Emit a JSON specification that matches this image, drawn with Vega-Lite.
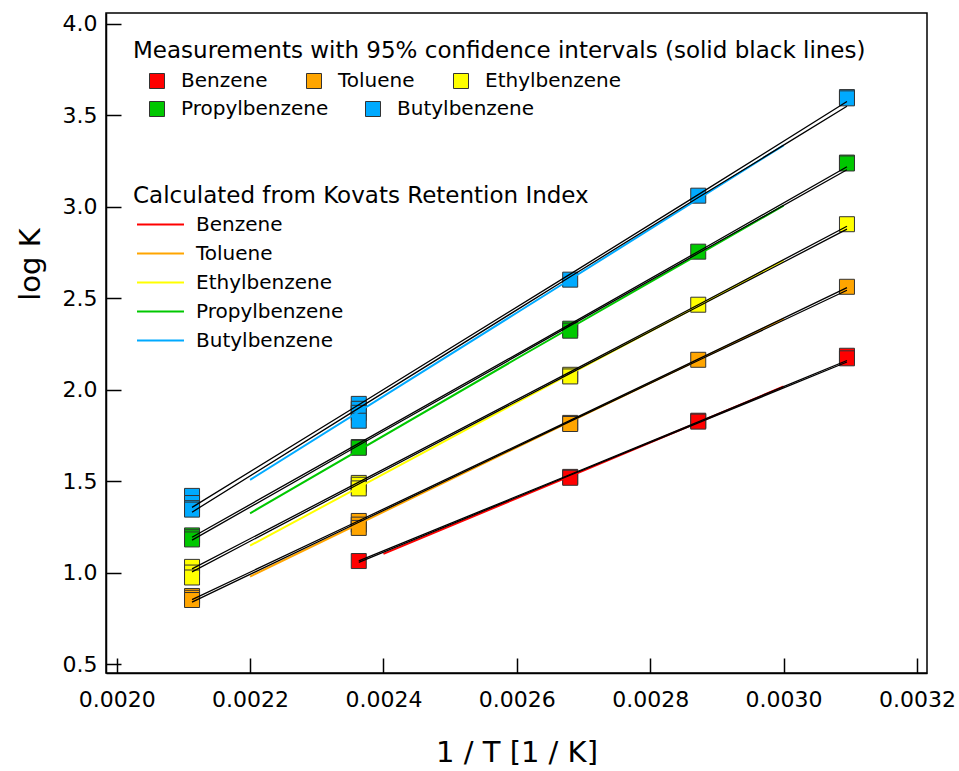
{
  "$schema": "https://vega.github.io/schema/vega-lite/v6.json",
  "width": 821,
  "height": 660,
  "autosize": {"type": "none"},
  "padding": {"left": 106, "top": 13, "right": 32, "bottom": 98},
  "background": "white",
  "datasets": {
    "meas": [
      {"compound": "Benzene", "invT": 0.002363, "logK": 1.063},
      {"compound": "Benzene", "invT": 0.002680, "logK": 1.523},
      {"compound": "Benzene", "invT": 0.002680, "logK": 1.518},
      {"compound": "Benzene", "invT": 0.002872, "logK": 1.830},
      {"compound": "Benzene", "invT": 0.002872, "logK": 1.825},
      {"compound": "Benzene", "invT": 0.003095, "logK": 2.185},
      {"compound": "Benzene", "invT": 0.003095, "logK": 2.171},
      {"compound": "Toluene", "invT": 0.002113, "logK": 0.872},
      {"compound": "Toluene", "invT": 0.002113, "logK": 0.862},
      {"compound": "Toluene", "invT": 0.002113, "logK": 0.850},
      {"compound": "Toluene", "invT": 0.002363, "logK": 1.282},
      {"compound": "Toluene", "invT": 0.002363, "logK": 1.262},
      {"compound": "Toluene", "invT": 0.002363, "logK": 1.244},
      {"compound": "Toluene", "invT": 0.002680, "logK": 1.818},
      {"compound": "Toluene", "invT": 0.002680, "logK": 1.812},
      {"compound": "Toluene", "invT": 0.002872, "logK": 2.163},
      {"compound": "Toluene", "invT": 0.003095, "logK": 2.562},
      {"compound": "Ethylbenzene", "invT": 0.002113, "logK": 1.031},
      {"compound": "Ethylbenzene", "invT": 0.002113, "logK": 1.000},
      {"compound": "Ethylbenzene", "invT": 0.002113, "logK": 0.973},
      {"compound": "Ethylbenzene", "invT": 0.002363, "logK": 1.490},
      {"compound": "Ethylbenzene", "invT": 0.002363, "logK": 1.480},
      {"compound": "Ethylbenzene", "invT": 0.002363, "logK": 1.460},
      {"compound": "Ethylbenzene", "invT": 0.002680, "logK": 2.081},
      {"compound": "Ethylbenzene", "invT": 0.002680, "logK": 2.072},
      {"compound": "Ethylbenzene", "invT": 0.002872, "logK": 2.464},
      {"compound": "Ethylbenzene", "invT": 0.003095, "logK": 2.904},
      {"compound": "Propylbenzene", "invT": 0.002113, "logK": 1.203},
      {"compound": "Propylbenzene", "invT": 0.002113, "logK": 1.193},
      {"compound": "Propylbenzene", "invT": 0.002113, "logK": 1.181},
      {"compound": "Propylbenzene", "invT": 0.002363, "logK": 1.686},
      {"compound": "Propylbenzene", "invT": 0.002363, "logK": 1.682},
      {"compound": "Propylbenzene", "invT": 0.002680, "logK": 2.333},
      {"compound": "Propylbenzene", "invT": 0.002680, "logK": 2.322},
      {"compound": "Propylbenzene", "invT": 0.002872, "logK": 2.754},
      {"compound": "Propylbenzene", "invT": 0.003095, "logK": 3.241},
      {"compound": "Propylbenzene", "invT": 0.003095, "logK": 3.236},
      {"compound": "Butylbenzene", "invT": 0.002113, "logK": 1.419},
      {"compound": "Butylbenzene", "invT": 0.002113, "logK": 1.380},
      {"compound": "Butylbenzene", "invT": 0.002113, "logK": 1.352},
      {"compound": "Butylbenzene", "invT": 0.002113, "logK": 1.344},
      {"compound": "Butylbenzene", "invT": 0.002363, "logK": 1.922},
      {"compound": "Butylbenzene", "invT": 0.002363, "logK": 1.895},
      {"compound": "Butylbenzene", "invT": 0.002363, "logK": 1.873},
      {"compound": "Butylbenzene", "invT": 0.002363, "logK": 1.830},
      {"compound": "Butylbenzene", "invT": 0.002680, "logK": 2.601},
      {"compound": "Butylbenzene", "invT": 0.002872, "logK": 3.060},
      {"compound": "Butylbenzene", "invT": 0.003095, "logK": 3.599},
      {"compound": "Butylbenzene", "invT": 0.003095, "logK": 3.592}
    ],
    "ci": [
      {"compound": "Benzene", "bound": "upper", "invT": 0.002363, "logK": 1.064},
      {"compound": "Benzene", "bound": "upper", "invT": 0.002680, "logK": 1.536},
      {"compound": "Benzene", "bound": "upper", "invT": 0.002872, "logK": 1.824},
      {"compound": "Benzene", "bound": "upper", "invT": 0.003095, "logK": 2.159},
      {"compound": "Benzene", "bound": "lower", "invT": 0.002363, "logK": 1.056},
      {"compound": "Benzene", "bound": "lower", "invT": 0.002680, "logK": 1.532},
      {"compound": "Benzene", "bound": "lower", "invT": 0.002872, "logK": 1.818},
      {"compound": "Benzene", "bound": "lower", "invT": 0.003095, "logK": 2.151},
      {"compound": "Toluene", "bound": "upper", "invT": 0.002113, "logK": 0.852},
      {"compound": "Toluene", "bound": "upper", "invT": 0.002363, "logK": 1.283},
      {"compound": "Toluene", "bound": "upper", "invT": 0.002680, "logK": 1.832},
      {"compound": "Toluene", "bound": "upper", "invT": 0.002872, "logK": 2.167},
      {"compound": "Toluene", "bound": "upper", "invT": 0.003095, "logK": 2.557},
      {"compound": "Toluene", "bound": "lower", "invT": 0.002113, "logK": 0.838},
      {"compound": "Toluene", "bound": "lower", "invT": 0.002363, "logK": 1.275},
      {"compound": "Toluene", "bound": "lower", "invT": 0.002680, "logK": 1.826},
      {"compound": "Toluene", "bound": "lower", "invT": 0.002872, "logK": 2.159},
      {"compound": "Toluene", "bound": "lower", "invT": 0.003095, "logK": 2.543},
      {"compound": "Ethylbenzene", "bound": "upper", "invT": 0.002113, "logK": 1.020},
      {"compound": "Ethylbenzene", "bound": "upper", "invT": 0.002363, "logK": 1.494},
      {"compound": "Ethylbenzene", "bound": "upper", "invT": 0.002680, "logK": 2.097},
      {"compound": "Ethylbenzene", "bound": "upper", "invT": 0.002872, "logK": 2.464},
      {"compound": "Ethylbenzene", "bound": "upper", "invT": 0.003095, "logK": 2.893},
      {"compound": "Ethylbenzene", "bound": "lower", "invT": 0.002113, "logK": 1.004},
      {"compound": "Ethylbenzene", "bound": "lower", "invT": 0.002363, "logK": 1.484},
      {"compound": "Ethylbenzene", "bound": "lower", "invT": 0.002680, "logK": 2.089},
      {"compound": "Ethylbenzene", "bound": "lower", "invT": 0.002872, "logK": 2.454},
      {"compound": "Ethylbenzene", "bound": "lower", "invT": 0.003095, "logK": 2.877},
      {"compound": "Propylbenzene", "bound": "upper", "invT": 0.002113, "logK": 1.193},
      {"compound": "Propylbenzene", "bound": "upper", "invT": 0.002363, "logK": 1.706},
      {"compound": "Propylbenzene", "bound": "upper", "invT": 0.002680, "logK": 2.358},
      {"compound": "Propylbenzene", "bound": "upper", "invT": 0.002872, "logK": 2.755},
      {"compound": "Propylbenzene", "bound": "upper", "invT": 0.003095, "logK": 3.218},
      {"compound": "Propylbenzene", "bound": "lower", "invT": 0.002113, "logK": 1.177},
      {"compound": "Propylbenzene", "bound": "lower", "invT": 0.002363, "logK": 1.696},
      {"compound": "Propylbenzene", "bound": "lower", "invT": 0.002680, "logK": 2.350},
      {"compound": "Propylbenzene", "bound": "lower", "invT": 0.002872, "logK": 2.745},
      {"compound": "Propylbenzene", "bound": "lower", "invT": 0.003095, "logK": 3.202},
      {"compound": "Butylbenzene", "bound": "upper", "invT": 0.002113, "logK": 1.356},
      {"compound": "Butylbenzene", "bound": "upper", "invT": 0.002363, "logK": 1.917},
      {"compound": "Butylbenzene", "bound": "upper", "invT": 0.002680, "logK": 2.631},
      {"compound": "Butylbenzene", "bound": "upper", "invT": 0.002872, "logK": 3.066},
      {"compound": "Butylbenzene", "bound": "upper", "invT": 0.003095, "logK": 3.575},
      {"compound": "Butylbenzene", "bound": "lower", "invT": 0.002113, "logK": 1.330},
      {"compound": "Butylbenzene", "bound": "lower", "invT": 0.002363, "logK": 1.899},
      {"compound": "Butylbenzene", "bound": "lower", "invT": 0.002680, "logK": 2.617},
      {"compound": "Butylbenzene", "bound": "lower", "invT": 0.002872, "logK": 3.050},
      {"compound": "Butylbenzene", "bound": "lower", "invT": 0.003095, "logK": 3.549}
    ],
    "kovats": [
      {"compound": "Benzene", "invT": 0.0024, "logK": 1.102},
      {"compound": "Benzene", "invT": 0.0027, "logK": 1.558},
      {"compound": "Benzene", "invT": 0.0030, "logK": 2.017},
      {"compound": "Toluene", "invT": 0.0022, "logK": 0.978},
      {"compound": "Toluene", "invT": 0.0026, "logK": 1.685},
      {"compound": "Toluene", "invT": 0.0030, "logK": 2.387},
      {"compound": "Ethylbenzene", "invT": 0.0022, "logK": 1.147},
      {"compound": "Ethylbenzene", "invT": 0.0026, "logK": 1.930},
      {"compound": "Ethylbenzene", "invT": 0.0030, "logK": 2.706},
      {"compound": "Propylbenzene", "invT": 0.0022, "logK": 1.324},
      {"compound": "Propylbenzene", "invT": 0.0026, "logK": 2.170},
      {"compound": "Propylbenzene", "invT": 0.0030, "logK": 3.005},
      {"compound": "Butylbenzene", "invT": 0.0022, "logK": 1.507},
      {"compound": "Butylbenzene", "invT": 0.0026, "logK": 2.420},
      {"compound": "Butylbenzene", "invT": 0.0030, "logK": 3.335}
    ]
  },
  "encoding": {
    "x": {
      "field": "invT", "type": "quantitative",
      "scale": {"domain": [0.001984, 0.003215], "nice": false, "zero": false},
      "axis": {
        "title": "1 / T [1 / K]",
        "values": [0.0020, 0.0022, 0.0024, 0.0026, 0.0028, 0.0030, 0.0032],
        "format": ".4f",
        "labelPadding": 31,
        "titleY": 88,
        "titleBaseline": "alphabetic"
      }
    },
    "y": {
      "field": "logK", "type": "quantitative",
      "scale": {"domain": [0.451, 4.0585], "nice": false, "zero": false},
      "axis": {
        "title": "log K",
        "values": [0.5, 1.0, 1.5, 2.0, 2.5, 3.0, 3.5, 4.0],
        "format": ".1f",
        "labelPadding": 24,
        "titleAngle": 270,
        "titleX": -67,
        "titleY": 251,
        "titleAlign": "center",
        "titleBaseline": "alphabetic"
      }
    }
  },
  "layer": [
    {
      "data": {"name": "meas"},
      "transform": [{"filter": {"field": "compound", "oneOf": ["Benzene", "Toluene", "Ethylbenzene"]}}],
      "mark": {"type": "square", "size": 225, "stroke": "#333333", "strokeWidth": 1, "opacity": 1, "filled": true},
      "encoding": {
        "fill": {
          "field": "compound", "type": "nominal",
          "scale": {"domain": ["Benzene", "Toluene", "Ethylbenzene"], "range": ["#ff0000", "#ffa500", "#ffff00"]},
          "legend": {
            "title": "Measurements with 95% confidence intervals (solid black lines)",
            "orient": "none", "legendX": 27, "legendY": 27,
            "direction": "horizontal", "columns": 3,
            "symbolType": "square", "symbolSize": 225, "symbolStrokeColor": "#333333", "symbolStrokeWidth": 1, "symbolOpacity": 1,
            "labelOffset": 14, "columnPadding": 22, "titlePadding": 8, "symbolOffset": 14, "titleAnchor": "start"
          }
        }
      }
    },
    {
      "data": {"name": "meas"},
      "transform": [{"filter": {"field": "compound", "oneOf": ["Propylbenzene", "Butylbenzene"]}}],
      "mark": {"type": "square", "size": 225, "stroke": "#333333", "strokeWidth": 1, "opacity": 1, "filled": true},
      "encoding": {
        "fill": {
          "field": "compound", "type": "nominal",
          "scale": {"domain": ["Propylbenzene", "Butylbenzene"], "range": ["#00c800", "#00aaff"]},
          "legend": {
            "title": null,
            "orient": "none", "legendX": 27, "legendY": 86,
            "direction": "horizontal", "columns": 2,
            "symbolType": "square", "symbolSize": 225, "symbolStrokeColor": "#333333", "symbolStrokeWidth": 1, "symbolOpacity": 1,
            "labelOffset": 14, "columnPadding": 20, "symbolOffset": 14
          }
        }
      }
    },
    {
      "data": {"name": "kovats"},
      "mark": {"type": "line", "strokeWidth": 2},
      "encoding": {
        "stroke": {
          "field": "compound", "type": "nominal",
          "scale": {"domain": ["Benzene", "Toluene", "Ethylbenzene", "Propylbenzene", "Butylbenzene"], "range": ["#ff0000", "#ffa500", "#ffff00", "#00c800", "#00aaff"]},
          "legend": {
            "title": "Calculated from Kovats Retention Index",
            "orient": "none", "legendX": 27, "legendY": 172,
            "direction": "vertical",
            "symbolType": "M-1.62,0H1.62", "symbolSize": 841, "symbolStrokeWidth": 2,
            "labelOffset": 20, "rowPadding": 3, "titlePadding": 1, "symbolOffset": 12, "titleAnchor": "start"
          }
        }
      }
    },
    {
      "data": {"name": "ci"},
      "mark": {"type": "line", "stroke": "black", "strokeWidth": 1.3},
      "encoding": {
        "detail": [{"field": "compound", "type": "nominal"}, {"field": "bound", "type": "nominal"}]
      }
    }
  ],
  "resolve": {"scale": {"fill": "independent"}, "legend": {"fill": "independent"}},
  "config": {
    "font": "DejaVu Sans",
    "view": {"stroke": "black", "strokeWidth": 1.5},
    "axis": {
      "grid": false,
      "domainColor": "black", "domainWidth": 1.5,
      "tickColor": "black", "tickWidth": 1.5, "tickSize": -15,
      "labelFont": "DejaVu Sans", "labelFontSize": 22, "labelColor": "black",
      "titleFont": "DejaVu Sans", "titleFontSize": 29, "titleFontWeight": "normal", "titleColor": "black"
    },
    "legend": {
      "labelFont": "DejaVu Sans", "labelFontSize": 20, "labelColor": "black", "labelLimit": 400,
      "titleFont": "DejaVu Sans", "titleFontSize": 23, "titleFontWeight": "normal", "titleColor": "black", "titleLimit": 1000,
      "padding": 0
    }
  }
}
